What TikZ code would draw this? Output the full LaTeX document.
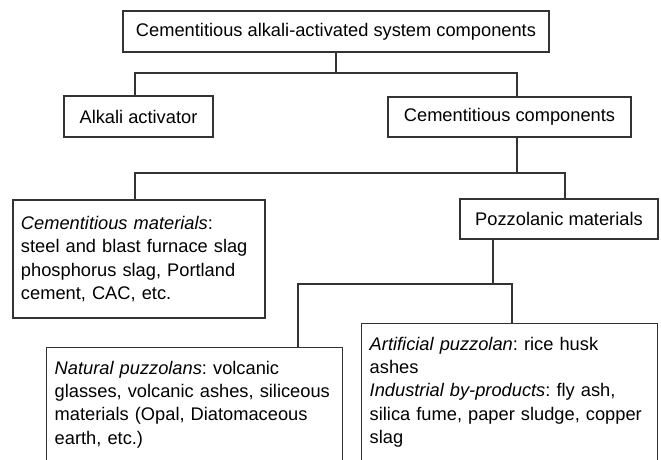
\documentclass[tikz,border=0pt]{standalone}
\usepackage{fontspec}
\setmainfont{Liberation Sans}
\frenchspacing
\newcommand{\boxfont}{\fontsize{13.7pt}{17.5pt}\selectfont}
\tikzset{
  box/.style={draw=black!80, line width=1.1pt, font=\boxfont, inner sep=0pt},
  listbox/.style={box, align=left, inner xsep=6pt, inner ysep=10pt, text width=#1},
}
\begin{document}
\begin{tikzpicture}[x=0.75pt, y=-0.75pt]
  \clip (0,0) rectangle (661,460);
  % boxes
  \node[box, minimum width=319.5pt, minimum height=30.75pt] (top) at (336,31.5) {Cementitious alkali-activated system components};
  \node[box, minimum width=111.75pt, minimum height=30.75pt] (alkali) at (138.5,116.5) {Alkali activator};
  \node[box, minimum width=182.25pt, minimum height=30pt] (cemcomp) at (509.5,117) {Cementitious components};
  \node[listbox=177pt, minimum height=88.5pt] (cemmat) at (139,259) {\textit{Cementitious materials}:\\steel and blast furnace slag\\phosphorus slag, Portland\\cement, CAC, etc.};
  \node[box, minimum width=148.5pt, minimum height=30pt] (pozz) at (559,219) {Pozzolanic materials};
  \node[listbox=210pt, anchor=north west] (natural) at (46,347) {\textit{Natural puzzolans}: volcanic\\glasses, volcanic ashes, siliceous\\materials (Opal, Diatomaceous\\earth, etc.)\\ \mbox{}};
  \node[listbox=210pt, anchor=north west] (artificial) at (361,323) {\textit{Artificial puzzolan}: rice husk\\ashes\\\textit{Industrial by-products}: fly ash,\\silica fume, paper sludge, copper\\slag\\ \mbox{}};
  % lines
  \coordinate (busA) at (0,73);
  \coordinate (busB) at (0,173);
  \coordinate (busC) at (0,284);
  \draw[box] (top.south) -- (top.south |- busA);
  \draw[box] (alkali.north -| 135,0) |- (busA -| 517,0) -- (cemcomp.north -| 517,0);
  \draw[box] (cemcomp.south -| 517,0) -- (busB -| 517,0);
  \draw[box] (cemmat.north -| 135,0) |- (busB -| 565,0) -- (pozz.north -| 565,0);
  \draw[box] (pozz.south -| 493,0) -- (busC -| 493,0);
  \draw[box] (natural.north -| 298,0) |- (busC -| 512,0) -- (artificial.north -| 512,0);
\end{tikzpicture}
\end{document}
